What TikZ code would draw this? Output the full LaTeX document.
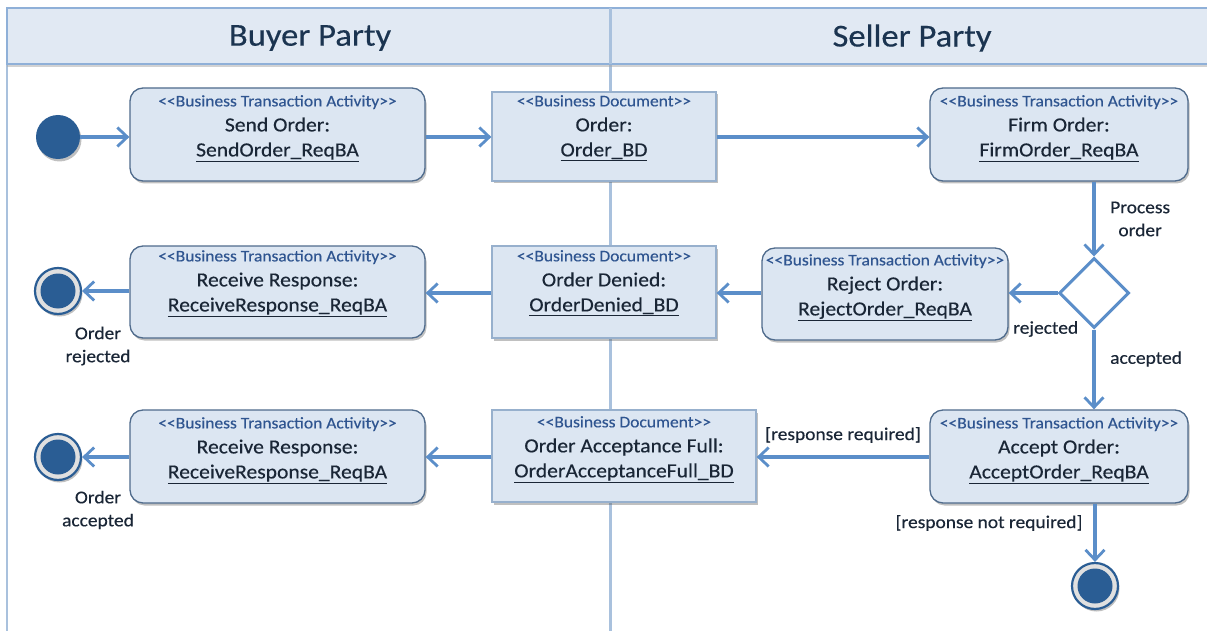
\documentclass[tikz,border=0pt]{standalone}
\usepackage{fontspec}
\setmainfont{Carlito}[FakeStretch=1.08, FakeBold=0.35]
\usetikzlibrary{arrows.meta,shapes.geometric,shadows}

\definecolor{boxfill}{HTML}{DCE6F2}
\definecolor{boxedge}{HTML}{4F6B8C}
\definecolor{flow}{HTML}{5B8EC9}
\definecolor{lane}{HTML}{A9C1DD}
\definecolor{headfill}{HTML}{E1E9F3}
\definecolor{headedge}{HTML}{8FB0D8}
\definecolor{stereo}{HTML}{2F5590}
\definecolor{ink}{HTML}{1A2636}
\definecolor{headink}{HTML}{1B3450}
\definecolor{dot}{HTML}{2A5D94}

\tikzset{
  boxshadow/.style={drop shadow={shadow xshift=1.5pt, shadow yshift=-2.5pt, opacity=0.35, fill=black!70}},
  activity/.style={draw=boxedge, fill=boxfill, line width=1.3pt, rounded corners=13pt, boxshadow},
  document/.style={draw=lane!80!boxedge, fill=boxfill, line width=1.3pt, boxshadow},
  boxtext/.style={anchor=north, align=center, text=ink, inner sep=0pt,
    font=\fontsize{20}{25}\selectfont},
  flowline/.style={draw=flow, line width=3.1pt, -{Straight Barb[length=10pt, width=19pt, line width=2.8pt]}},
  guard/.style={text=ink, font=\fontsize{18}{23}\selectfont, align=center, inner sep=0pt},
  startdot/.style={circle, fill=dot, minimum size=44pt, inner sep=0pt, boxshadow},
  endring/.style={circle, draw=dot, line width=2.2pt, fill=black!12, minimum size=46pt, inner sep=0pt, boxshadow},
  enddot/.style={circle, fill=dot, minimum size=35pt, inner sep=0pt},
  decision/.style={diamond, draw=flow, fill=white, line width=3pt, minimum width=70pt, minimum height=70pt, inner sep=0pt, aspect=1},
  headtext/.style={text=headink, font=\fontsize{32}{38}\selectfont}
}
\newcommand{\stereotype}[1]{{\fontsize{16.2}{25}\selectfont\color{stereo}<{}<#1>{}>}}

\begin{document}
\begin{tikzpicture}[x=1pt, y=-1pt]
\useasboundingbox[fill=white] (0,0) rectangle (1207,631);

% swimlane frame and headers
\draw[lane, line width=1.5pt] (7,8) -- (7,631);
\draw[lane, line width=3pt] (610,8) -- (610,631);
\fill[black!35, opacity=0.5] (7,64) rectangle (1207,67);
\draw[headedge, fill=headfill, line width=1.3pt] (7,8) rectangle (1210,64);
\draw[lane, line width=3pt] (610,8) -- (610,64);
\node[headtext] (buyer) at (310,38) {Buyer Party};
\node[headtext] (seller) at (912,38) {Seller Party};

% activities and documents
\node[activity, minimum width=295pt, minimum height=93pt] (send) at (277.5,134.5) {};
\node[boxtext] (sendt) at (277.5,95) {\stereotype{Business Transaction Activity}\\Send Order:\\\underline{SendOrder\_ReqBA}};

\node[document, minimum width=224pt, minimum height=89pt] (order) at (604,136.5) {};
\node[boxtext] (ordert) at (604,95) {\stereotype{Business Document}\\Order:\\\underline{Order\_BD}};

\node[activity, minimum width=258pt, minimum height=93pt] (firm) at (1059,134.5) {};
\node[boxtext] (firmt) at (1059,95) {\stereotype{Business Transaction Activity}\\Firm Order:\\\underline{FirmOrder\_ReqBA}};

\node[activity, minimum width=295pt, minimum height=92pt] (recv1) at (277.5,292) {};
\node[boxtext] (recv1t) at (277.5,250) {\stereotype{Business Transaction Activity}\\Receive Response:\\\underline{ReceiveResponse\_ReqBA}};

\node[document, minimum width=224pt, minimum height=92pt] (denied) at (604,292) {};
\node[boxtext] (deniedt) at (604,250) {\stereotype{Business Document}\\Order Denied:\\\underline{OrderDenied\_BD}};

\node[activity, minimum width=246pt, minimum height=92pt] (reject) at (885,294) {};
\node[boxtext] (rejectt) at (885,254) {\stereotype{Business Transaction Activity}\\Reject Order:\\\underline{RejectOrder\_ReqBA}};

\node[decision] (dec) at (1094,293) {};

\node[activity, minimum width=295pt, minimum height=93pt] (recv2) at (277.5,456.5) {};
\node[boxtext] (recv2t) at (277.5,417) {\stereotype{Business Transaction Activity}\\Receive Response:\\\underline{ReceiveResponse\_ReqBA}};

\node[document, minimum width=264pt, minimum height=92pt] (oaf) at (624,456) {};
\node[boxtext] (oaft) at (624,416) {\stereotype{Business Document}\\Order Acceptance Full:\\\underline{OrderAcceptanceFull\_BD}};

\node[activity, minimum width=258pt, minimum height=93pt] (accept) at (1059,456.5) {};
\node[boxtext] (acceptt) at (1059,417) {\stereotype{Business Transaction Activity}\\Accept Order:\\\underline{AcceptOrder\_ReqBA}};

% start and end points
\node[startdot] (start) at (58,137) {};
\node[endring] (endrej) at (58,291) {};
\node[enddot] (endrejc) at (58,291) {};
\node[endring] (endacc) at (58,457) {};
\node[enddot] (endaccc) at (58,457) {};
\node[endring] (endnone) at (1095,586) {};
\node[enddot] (endnonec) at (1095,586) {};

% control flows
\draw[flowline] (start) -- (send.west |- start);
\draw[flowline] (send.east |- start) -- (order.west |- start);
\draw[flowline] (order.east |- start) -- (firm.west |- start);
\draw[flowline] (firm.south -| dec) -- (dec.north);
\draw[flowline] (dec.west) -- (reject.east |- dec);
\draw[flowline] (dec.south) -- (accept.north -| dec);
\draw[flowline] (reject.west |- dec) -- (denied.east |- dec);
\draw[flowline] (denied.west |- dec) -- (recv1.east |- dec);
\draw[flowline] (recv1.west |- endrej) -- (endrej.east);
\draw[flowline] (accept.west |- endacc) -- (oaf.east |- endacc);
\draw[flowline] (oaf.west |- endacc) -- (recv2.east |- endacc);
\draw[flowline] (recv2.west |- endacc) -- (endacc.east);
\draw[flowline] (accept.south -| endnone) -- (endnone.north);

% guards and notes
\node[guard, anchor=west] (lproc) at (1110,219) {Process\\order};
\node[guard, anchor=west] (lrej) at (1013,329) {rejected};
\node[guard, anchor=west] (lacc) at (1110,359) {accepted};
\node[guard] (lreq) at (843,435) {[response required]};
\node[guard] (lnreq) at (989,523) {[response not required]};
\node[guard] (lor) at (98,346) {Order\\rejected};
\node[guard] (loa) at (98,510) {Order\\accepted};
\end{tikzpicture}
\end{document}
